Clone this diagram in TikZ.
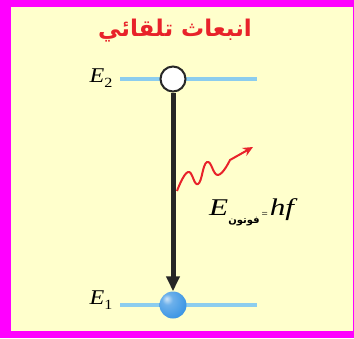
\documentclass[tikz,border=0pt]{standalone}
\usepackage{fontspec}
\usetikzlibrary{arrows.meta,shadings}
\TeXXeTstate=1
\newfontfamily\arabicfont[Script=Arabic]{DejaVu Sans}
\newfontfamily\timesfont{Liberation Serif}
\definecolor{frame}{RGB}{255,0,255}
\definecolor{bgyellow}{RGB}{255,255,204}
\definecolor{levelblue}{RGB}{140,205,238}
\definecolor{titlered}{RGB}{232,34,42}
\definecolor{rimgray}{RGB}{40,40,40}
\definecolor{ballblue}{RGB}{60,150,228}
\definecolor{balldark}{RGB}{25,95,175}
\pgfdeclareradialshading{bluesphere}{\pgfpoint{-12bp}{12bp}}{color(0bp)=(white!75!ballblue); color(10bp)=(white!25!ballblue); color(32bp)=(ballblue); color(55bp)=(balldark); color(70bp)=(balldark)}
\tikzset{
  level/.style={levelblue, line width=4pt},
  emptyball/.style={circle, draw=rimgray, fill=white, line width=2pt, minimum size=25pt, inner sep=0pt},
  fullball/.style={circle, shade, shading=bluesphere, minimum size=27pt, inner sep=0pt},
  elabel/.style={inner sep=0pt},
  transition/.style={black!85, line width=5pt, -{Triangle[width=13pt,length=15pt]}},
  photon/.style={titlered, line width=2pt, line join=round, -{Stealth[length=10pt,width=9pt]}}
}
\newcommand{\wideit}[1]{\scalebox{1.3}[1]{\timesfont\itshape\fontsize{24}{24}\selectfont #1}}
\newcommand{\levelE}[1]{\scalebox{1.15}[1]{\timesfont\itshape\fontsize{21}{21}\selectfont E}\raisebox{-5pt}{\scalebox{1.15}[1]{\timesfont\fontsize{14}{14}\selectfont #1}}}
\begin{document}
\begin{tikzpicture}[x=1pt,y=-1pt]
\useasboundingbox (0,0) rectangle (354,338);
\fill[frame] (0,0) rectangle (354,338);
\fill[bgyellow] (11,7) rectangle (352.5,331);
\node[titlered, font=\arabicfont\bfseries\fontsize{23}{23}\selectfont] (title) at (175,31) {\beginR انبعاث تلقائي\endR};
\coordinate (e2l) at (120,79);
\coordinate (e2r) at (257,79);
\coordinate (e1l) at (120,305);
\coordinate (e1r) at (257,305);
\draw[level] (e2l) -- (e2r);
\draw[level] (e1l) -- (e1r);
\node[elabel] (E2) at (101,78) {\levelE{2}};
\node[elabel] (E1) at (101,300) {\levelE{1}};
\node[emptyball] (up) at (173,79) {};
\node[fullball] (down) at (173,305) {};
\draw[transition] (up.south) -- (down.north);
\coordinate (w0) at (177,191);
\coordinate (wa) at (188,172);
\coordinate (wb) at (198,184);
\coordinate (wc) at (207,162);
\coordinate (wd) at (218,175);
\coordinate (we) at (230,160);
\coordinate (w1) at (253,147);
\draw[photon] plot[smooth, tension=0.8] coordinates {(w0) (wa) (wb) (wc) (wd) (we)} -- (w1);
\node[inner sep=0pt, anchor=base west] (energy) at (209,215) {\wideit{E}\raisebox{-8pt}{\arabicfont\bfseries\fontsize{10}{10}\selectfont\beginR فوتون\endR}\hspace{2pt}\raisebox{-2pt}{\timesfont\fontsize{11}{11}\selectfont =}\hspace{2pt}\wideit{hf}};
\end{tikzpicture}
\end{document}
